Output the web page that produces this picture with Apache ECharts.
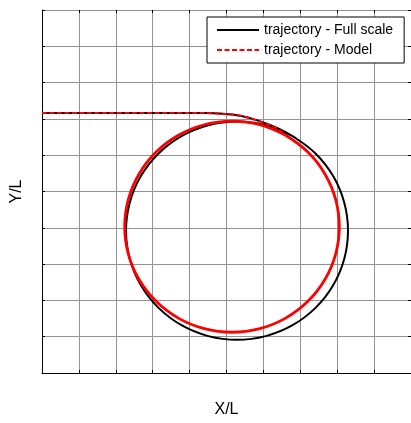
<!DOCTYPE html>
<html>
<head>
<meta charset="utf-8">
<script src="https://cdn.jsdelivr.net/npm/echarts@6/dist/echarts.min.js"></script>
<style>
  html, body { margin: 0; padding: 0; background: #fff; }
  #chart { width: 411px; height: 423px; }
</style>
</head>
<body>
<div id="chart"></div>
<script>
// Turning-circle trajectories, coordinates non-dimensionalised by length L.
const seriesNames = ['trajectory - Full scale', 'trajectory - Model'];
const axisNames = { x: 'X/L', y: 'Y/L' };
const axisTicks = [0, 1, 2, 3, 4, 5, 6, 7, 8, 9, 10];

// Full-scale ship: straight approach, then the turning loop (clockwise).
const fullScaleTrack = [
  [0.000, 7.16], [4.400, 7.16], [4.900, 7.14], [5.400, 7.08], [5.900, 6.94],
  [6.400, 6.74], [6.789, 6.526], [7.412, 6.048], [7.890, 5.425], [8.190, 4.700],
  [8.293, 3.921], [8.190, 3.142], [7.890, 2.417], [7.412, 1.794], [6.789, 1.316],
  [6.063, 1.016], [5.285, 0.913], [4.507, 1.016], [3.781, 1.316], [3.158, 1.794],
  [2.680, 2.417], [2.380, 3.142], [2.277, 3.921], [2.380, 4.700], [2.680, 5.425],
  [3.158, 6.048], [3.781, 6.526], [4.507, 6.826], [5.285, 6.929], [6.063, 6.826],
  [6.789, 6.526]
];

// Model: approach leg
const modelApproach = [
  [0.000, 7.16], [4.400, 7.16], [4.900, 7.14], [5.400, 7.08], [5.900, 6.93],
  [6.400, 6.72], [6.603, 6.548]
];

// Model: turning loop
const modelLoop = [
  [6.603, 6.548], [7.205, 6.086], [7.667, 5.484], [7.958, 4.783], [8.057, 4.030],
  [7.958, 3.277], [7.667, 2.576], [7.205, 1.974], [6.603, 1.512], [5.902, 1.221],
  [5.149, 1.122], [4.396, 1.221], [3.695, 1.512], [3.093, 1.974], [2.631, 2.576],
  [2.340, 3.277], [2.241, 4.030], [2.340, 4.783], [2.631, 5.484], [3.093, 6.086],
  [3.695, 6.548], [4.396, 6.839], [5.149, 6.938], [5.902, 6.839], [6.603, 6.548]
];

const FONT = '"Liberation Sans", Arial, sans-serif';
const GRID_COLOR = '#939393';

const chart = echarts.init(document.getElementById('chart'), null, { renderer: 'canvas' });

const axisRange = { min: axisTicks[0], max: axisTicks[axisTicks.length - 1], interval: axisTicks[1] - axisTicks[0] };

chart.setOption({
  animation: false,
  backgroundColor: '#ffffff',
  grid: { left: 42, top: 10, width: 369, height: 369, containLabel: false },
  legend: {
    data: seriesNames,
    orient: 'vertical',
    left: 207,
    top: 17,
    padding: [6, 11, 6, 9],
    itemGap: 6,
    itemWidth: 42,
    itemHeight: 14,
    itemTextGap: 6,
    backgroundColor: '#ffffff',
    borderColor: '#000000',
    borderWidth: 1,
    borderRadius: 0,
    itemStyle: { opacity: 0, borderWidth: 0 },
    textStyle: { fontFamily: FONT, fontSize: 14, color: '#000' }
  },
  xAxis: [
    {
      type: 'value', position: 'bottom', ...axisRange,
      name: axisNames.x, nameLocation: 'middle', nameGap: 29,
      nameTextStyle: { fontFamily: FONT, fontSize: 16, color: '#000' },
      axisLine: { show: true, onZero: false, lineStyle: { color: '#000', width: 1 } },
      axisTick: { show: true, inside: true, length: 3, lineStyle: { color: '#000' } },
      axisLabel: { show: false },
      splitLine: { show: true, lineStyle: { color: GRID_COLOR, width: 1 } }
    },
    {
      type: 'value', position: 'top', ...axisRange,
      axisLine: { show: true, onZero: false, lineStyle: { color: GRID_COLOR, width: 1 } },
      axisTick: { show: true, inside: true, length: 3, lineStyle: { color: '#000' } },
      axisLabel: { show: false },
      splitLine: { show: false }
    }
  ],
  yAxis: [
    {
      type: 'value', position: 'left', ...axisRange,
      name: axisNames.y, nameLocation: 'middle', nameGap: 17,
      nameTextStyle: { fontFamily: FONT, fontSize: 16, color: '#000' },
      axisLine: { show: true, onZero: false, lineStyle: { color: '#000', width: 1 } },
      axisTick: { show: true, inside: true, length: 3, lineStyle: { color: '#000' } },
      axisLabel: { show: false },
      splitLine: { show: true, lineStyle: { color: GRID_COLOR, width: 1 } }
    },
    {
      type: 'value', position: 'right', ...axisRange,
      axisLine: { show: true, onZero: false, lineStyle: { color: '#000', width: 1 } },
      axisTick: { show: true, inside: true, length: 3, lineStyle: { color: '#000' } },
      axisLabel: { show: false },
      splitLine: { show: false }
    }
  ],
  series: [
    {
      name: seriesNames[0], type: 'line', xAxisIndex: 0, yAxisIndex: 0,
      data: fullScaleTrack, showSymbol: false, symbol: 'none', smooth: 0.4,
      lineStyle: { color: '#000000', width: 2 },
      itemStyle: { color: '#000000' },
      z: 2
    },
    {
      name: seriesNames[1], type: 'line', xAxisIndex: 0, yAxisIndex: 0,
      data: modelApproach, showSymbol: false, symbol: 'none', smooth: 0.4,
      lineStyle: { color: '#ff0000', width: 2, type: [5, 2.5] },
      itemStyle: { color: '#ff0000' },
      z: 3
    },
    {
      name: 'model loop', type: 'line', xAxisIndex: 0, yAxisIndex: 0,
      data: modelLoop, showSymbol: false, symbol: 'none', smooth: 0.4,
      lineStyle: { color: '#ff0000', width: 2.8 },
      itemStyle: { color: '#ff0000' },
      z: 3
    }
  ]
});
</script>
</body>
</html>
